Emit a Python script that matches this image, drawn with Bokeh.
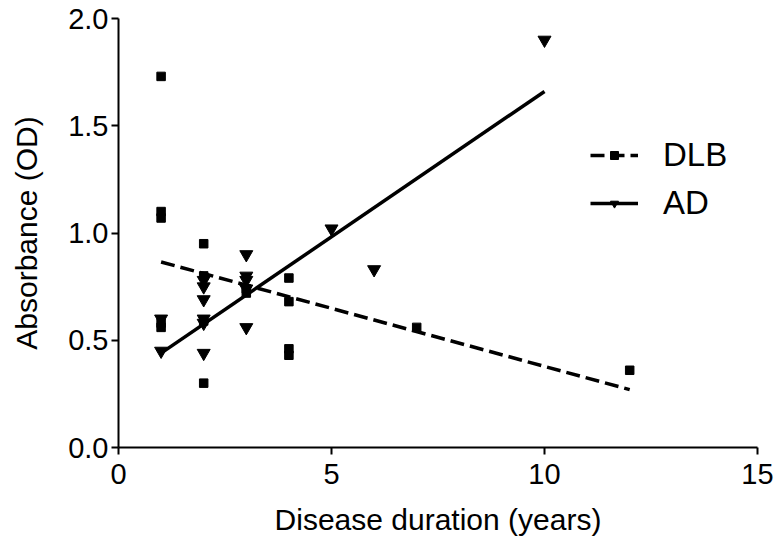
from bokeh.plotting import figure
from bokeh.models import Range1d, FixedTicker, Legend, LegendItem, CustomJSTickFormatter
from bokeh.embed import file_html
from bokeh.resources import INLINE

# DLB data (squares)
dlb_x = [1, 1, 1, 1, 1, 2, 2, 2, 2, 3, 3, 4, 4, 4, 4, 7, 12]
dlb_y = [1.73, 1.10, 1.07, 0.58, 0.56, 0.95, 0.80, 0.59, 0.30, 0.74, 0.72, 0.79, 0.68, 0.46, 0.43, 0.56, 0.36]
# AD data (inverted triangles)
ad_x = [1, 1, 2, 2, 2, 2, 2, 2, 3, 3, 3, 3, 3, 5, 6, 10]
ad_y = [0.60, 0.45, 0.78, 0.75, 0.69, 0.60, 0.58, 0.44, 0.90, 0.80, 0.78, 0.74, 0.56, 1.02, 0.83, 1.90]
# regression lines (endpoints)
dlb_fit_x = [1, 12]
dlb_fit_y = [0.865, 0.27]
ad_fit_x = [1, 10]
ad_fit_y = [0.44, 1.66]

x_ticks = [0, 5, 10, 15]
y_ticks = [0.0, 0.5, 1.0, 1.5, 2.0]

FONT = "Liberation Sans"

p = figure(width=776, height=546, output_backend="svg", toolbar_location=None,
           x_range=Range1d(0, 15), y_range=Range1d(0, 2))
p.min_border_left = 118
p.min_border_right = 19
p.min_border_top = 18
p.min_border_bottom = 99
p.outline_line_color = None
p.grid.visible = False
p.background_fill_color = "white"
p.border_fill_color = "white"

for ax in (p.xaxis[0], p.yaxis[0]):
    ax.axis_line_width = 2
    ax.axis_line_color = "black"
    ax.major_tick_line_width = 2
    ax.major_tick_line_color = "black"
    ax.major_tick_out = 7
    ax.major_tick_in = 0
    ax.minor_tick_line_color = None
    ax.major_label_text_font = FONT
    ax.major_label_text_font_size = "29px"
    ax.major_label_text_color = "black"
    ax.axis_label_text_font = FONT
    ax.axis_label_text_font_size = "30px"
    ax.axis_label_text_font_style = "normal"
    ax.axis_label_text_color = "black"

p.xaxis[0].ticker = FixedTicker(ticks=x_ticks)
p.yaxis[0].ticker = FixedTicker(ticks=y_ticks)
p.yaxis[0].formatter = CustomJSTickFormatter(code="return tick.toFixed(1);")
p.xaxis[0].axis_label = "Disease duration (years)"
p.yaxis[0].axis_label = "Absorbance (OD)"
p.xaxis[0].major_label_standoff = 9
p.yaxis[0].major_label_standoff = 3
p.xaxis[0].axis_label_standoff = 16
p.yaxis[0].axis_label_standoff = 22

l_dlb = p.line(dlb_fit_x, dlb_fit_y, line_color="black", line_width=3.5, line_dash="14 6")
l_ad = p.line(ad_fit_x, ad_fit_y, line_color="black", line_width=3.5)
s_dlb = p.scatter(dlb_x, dlb_y, marker="square", size=8.5, color="black")
s_ad = p.scatter(ad_x, ad_y, marker="inverted_triangle", size=13, color="black")

legend = Legend(items=[LegendItem(label="DLB", renderers=[l_dlb, s_dlb]),
                       LegendItem(label="AD", renderers=[l_ad, s_ad])],
                location=(472, 225))
legend.glyph_width = 48
legend.glyph_height = 20
legend.label_height = 20
legend.label_standoff = 25
legend.spacing = 10
legend.padding = 0
legend.margin = 0
legend.border_line_color = None
legend.background_fill_alpha = 0
legend.label_text_font = FONT
legend.label_text_font_size = "33px"
legend.label_text_color = "black"
p.add_layout(legend)

open("out.html", "w").write(file_html(p, INLINE))
